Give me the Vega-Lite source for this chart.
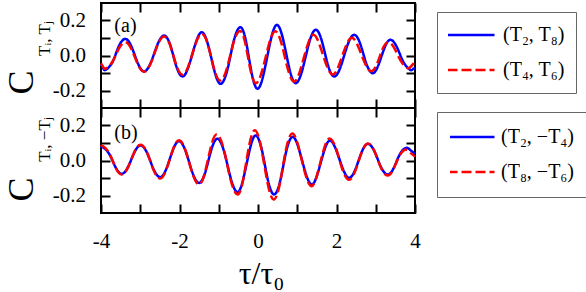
{
"$schema": "https://vega.github.io/schema/vega-lite/v6.json",
"background": "white",
"padding": {"left": 2, "top": 1, "right": 0, "bottom": 0},
"bounds": "flush",
"spacing": 0,
"config": {
 "font": "Liberation Serif",
 "view": {"stroke": "black", "strokeWidth": 2},
 "axis": {"domain": false, "grid": false, "ticks": true, "tickColor": "black", "tickWidth": 2, "tickSize": -9, "labelFont": "Liberation Serif", "labelFontSize": 21, "labelColor": "black", "labelFlush": false, "labelOverlap": false, "titleFont": "Liberation Serif", "titleFontWeight": "normal", "titleColor": "black"},
 "legend": {"orient": "none", "padding": 11, "symbolType": "stroke", "symbolSize": 2209, "symbolStrokeWidth": 2.4, "clipHeight": 24, "rowPadding": 11, "labelFont": "Liberation Serif", "labelFontSize": 20, "labelColor": "black", "labelOffset": 7, "symbolOffset": -2, "strokeColor": "#666666", "fillColor": "white", "cornerRadius": 0, "title": null}
},
"resolve": {"scale": {"color": "independent", "strokeDash": "independent", "x": "independent", "y": "independent"}, "legend": {"color": "independent", "strokeDash": "independent"}},
"datasets": {
 "a": [
  {"s":"(T₂, T₈)","t":-4.00,"c":-0.050},{"s":"(T₂, T₈)","t":-3.94,"c":-0.075},{"s":"(T₂, T₈)","t":-3.88,"c":-0.082},{"s":"(T₂, T₈)","t":-3.71,"c":-0.038},{"s":"(T₂, T₈)","t":-3.55,"c":0.051},{"s":"(T₂, T₈)","t":-3.38,"c":0.095},{"s":"(T₂, T₈)","t":-3.22,"c":0.049},{"s":"(T₂, T₈)","t":-3.06,"c":-0.045},{"s":"(T₂, T₈)","t":-2.90,"c":-0.091},{"s":"(T₂, T₈)","t":-2.73,"c":-0.040},{"s":"(T₂, T₈)","t":-2.56,"c":0.063},{"s":"(T₂, T₈)","t":-2.39,"c":0.114},{"s":"(T₂, T₈)","t":-2.23,"c":0.056},{"s":"(T₂, T₈)","t":-2.08,"c":-0.062},{"s":"(T₂, T₈)","t":-1.92,"c":-0.120},{"s":"(T₂, T₈)","t":-1.76,"c":-0.057},{"s":"(T₂, T₈)","t":-1.59,"c":0.070},{"s":"(T₂, T₈)","t":-1.43,"c":0.133},{"s":"(T₂, T₈)","t":-1.27,"c":0.059},{"s":"(T₂, T₈)","t":-1.11,"c":-0.088},{"s":"(T₂, T₈)","t":-0.95,"c":-0.162},{"s":"(T₂, T₈)","t":-0.78,"c":-0.081},{"s":"(T₂, T₈)","t":-0.62,"c":0.081},{"s":"(T₂, T₈)","t":-0.45,"c":0.162},{"s":"(T₂, T₈)","t":-0.30,"c":0.074},{"s":"(T₂, T₈)","t":-0.16,"c":-0.102},{"s":"(T₂, T₈)","t":-0.01,"c":-0.190},{"s":"(T₂, T₈)","t":0.15,"c":-0.099},{"s":"(T₂, T₈)","t":0.32,"c":0.084},{"s":"(T₂, T₈)","t":0.48,"c":0.175},{"s":"(T₂, T₈)","t":0.64,"c":0.092},{"s":"(T₂, T₈)","t":0.80,"c":-0.075},{"s":"(T₂, T₈)","t":0.96,"c":-0.158},{"s":"(T₂, T₈)","t":1.13,"c":-0.082},{"s":"(T₂, T₈)","t":1.30,"c":0.071},{"s":"(T₂, T₈)","t":1.47,"c":0.147},{"s":"(T₂, T₈)","t":1.63,"c":0.080},{"s":"(T₂, T₈)","t":1.78,"c":-0.053},{"s":"(T₂, T₈)","t":1.94,"c":-0.120},{"s":"(T₂, T₈)","t":2.11,"c":-0.061},{"s":"(T₂, T₈)","t":2.28,"c":0.059},{"s":"(T₂, T₈)","t":2.45,"c":0.118},{"s":"(T₂, T₈)","t":2.61,"c":0.063},{"s":"(T₂, T₈)","t":2.76,"c":-0.046},{"s":"(T₂, T₈)","t":2.92,"c":-0.101},{"s":"(T₂, T₈)","t":3.07,"c":-0.053},{"s":"(T₂, T₈)","t":3.22,"c":0.042},{"s":"(T₂, T₈)","t":3.37,"c":0.090},{"s":"(T₂, T₈)","t":3.54,"c":0.047},{"s":"(T₂, T₈)","t":3.71,"c":-0.039},{"s":"(T₂, T₈)","t":3.88,"c":-0.082},{"s":"(T₂, T₈)","t":3.94,"c":-0.079},{"s":"(T₂, T₈)","t":4.00,"c":-0.072},
  {"s":"(T₄, T₆)","t":-4.00,"c":-0.045},{"s":"(T₄, T₆)","t":-3.94,"c":-0.068},{"s":"(T₄, T₆)","t":-3.88,"c":-0.075},{"s":"(T₄, T₆)","t":-3.71,"c":-0.037},{"s":"(T₄, T₆)","t":-3.55,"c":0.038},{"s":"(T₄, T₆)","t":-3.38,"c":0.076},{"s":"(T₄, T₆)","t":-3.22,"c":0.034},{"s":"(T₄, T₆)","t":-3.06,"c":-0.051},{"s":"(T₄, T₆)","t":-2.90,"c":-0.093},{"s":"(T₄, T₆)","t":-2.73,"c":-0.043},{"s":"(T₄, T₆)","t":-2.56,"c":0.058},{"s":"(T₄, T₆)","t":-2.39,"c":0.108},{"s":"(T₄, T₆)","t":-2.23,"c":0.054},{"s":"(T₄, T₆)","t":-2.08,"c":-0.056},{"s":"(T₄, T₆)","t":-1.92,"c":-0.110},{"s":"(T₄, T₆)","t":-1.76,"c":-0.052},{"s":"(T₄, T₆)","t":-1.59,"c":0.066},{"s":"(T₄, T₆)","t":-1.43,"c":0.124},{"s":"(T₄, T₆)","t":-1.27,"c":0.057},{"s":"(T₄, T₆)","t":-1.12,"c":-0.076},{"s":"(T₄, T₆)","t":-0.96,"c":-0.143},{"s":"(T₄, T₆)","t":-0.79,"c":-0.072},{"s":"(T₄, T₆)","t":-0.63,"c":0.069},{"s":"(T₄, T₆)","t":-0.46,"c":0.140},{"s":"(T₄, T₆)","t":-0.32,"c":0.066},{"s":"(T₄, T₆)","t":-0.19,"c":-0.084},{"s":"(T₄, T₆)","t":-0.05,"c":-0.158},{"s":"(T₄, T₆)","t":0.11,"c":-0.084},{"s":"(T₄, T₆)","t":0.28,"c":0.065},{"s":"(T₄, T₆)","t":0.44,"c":0.139},{"s":"(T₄, T₆)","t":0.60,"c":0.067},{"s":"(T₄, T₆)","t":0.76,"c":-0.077},{"s":"(T₄, T₆)","t":0.92,"c":-0.149},{"s":"(T₄, T₆)","t":1.08,"c":-0.082},{"s":"(T₄, T₆)","t":1.25,"c":0.051},{"s":"(T₄, T₆)","t":1.41,"c":0.118},{"s":"(T₄, T₆)","t":1.57,"c":0.061},{"s":"(T₄, T₆)","t":1.74,"c":-0.052},{"s":"(T₄, T₆)","t":1.90,"c":-0.109},{"s":"(T₄, T₆)","t":2.06,"c":-0.057},{"s":"(T₄, T₆)","t":2.23,"c":0.049},{"s":"(T₄, T₆)","t":2.39,"c":0.101},{"s":"(T₄, T₆)","t":2.55,"c":0.053},{"s":"(T₄, T₆)","t":2.72,"c":-0.042},{"s":"(T₄, T₆)","t":2.88,"c":-0.090},{"s":"(T₄, T₆)","t":3.03,"c":-0.049},{"s":"(T₄, T₆)","t":3.17,"c":0.035},{"s":"(T₄, T₆)","t":3.32,"c":0.076},{"s":"(T₄, T₆)","t":3.48,"c":0.039},{"s":"(T₄, T₆)","t":3.65,"c":-0.035},{"s":"(T₄, T₆)","t":3.81,"c":-0.072},{"s":"(T₄, T₆)","t":3.90,"c":-0.062},{"s":"(T₄, T₆)","t":4.00,"c":-0.036}
 ],
 "b": [
  {"s":"(T₂, −T₄)","t":-4.00,"c":0.073},{"s":"(T₂, −T₄)","t":-3.95,"c":0.075},{"s":"(T₂, −T₄)","t":-3.79,"c":0.037},{"s":"(T₂, −T₄)","t":-3.63,"c":-0.038},{"s":"(T₂, −T₄)","t":-3.47,"c":-0.076},{"s":"(T₂, −T₄)","t":-3.31,"c":-0.036},{"s":"(T₂, −T₄)","t":-3.15,"c":0.046},{"s":"(T₂, −T₄)","t":-2.99,"c":0.086},{"s":"(T₂, −T₄)","t":-2.82,"c":0.041},{"s":"(T₂, −T₄)","t":-2.66,"c":-0.050},{"s":"(T₂, −T₄)","t":-2.49,"c":-0.095},{"s":"(T₂, −T₄)","t":-2.33,"c":-0.044},{"s":"(T₂, −T₄)","t":-2.17,"c":0.059},{"s":"(T₂, −T₄)","t":-2.01,"c":0.110},{"s":"(T₂, −T₄)","t":-1.84,"c":0.051},{"s":"(T₂, −T₄)","t":-1.67,"c":-0.069},{"s":"(T₂, −T₄)","t":-1.50,"c":-0.128},{"s":"(T₂, −T₄)","t":-1.34,"c":-0.065},{"s":"(T₂, −T₄)","t":-1.19,"c":0.061},{"s":"(T₂, −T₄)","t":-1.03,"c":0.124},{"s":"(T₂, −T₄)","t":-0.86,"c":0.048},{"s":"(T₂, −T₄)","t":-0.69,"c":-0.105},{"s":"(T₂, −T₄)","t":-0.52,"c":-0.181},{"s":"(T₂, −T₄)","t":-0.37,"c":-0.100},{"s":"(T₂, −T₄)","t":-0.21,"c":0.062},{"s":"(T₂, −T₄)","t":-0.06,"c":0.143},{"s":"(T₂, −T₄)","t":0.10,"c":0.059},{"s":"(T₂, −T₄)","t":0.25,"c":-0.110},{"s":"(T₂, −T₄)","t":0.41,"c":-0.194},{"s":"(T₂, −T₄)","t":0.57,"c":-0.112},{"s":"(T₂, −T₄)","t":0.72,"c":0.053},{"s":"(T₂, −T₄)","t":0.88,"c":0.135},{"s":"(T₂, −T₄)","t":1.04,"c":0.067},{"s":"(T₂, −T₄)","t":1.21,"c":-0.069},{"s":"(T₂, −T₄)","t":1.37,"c":-0.137},{"s":"(T₂, −T₄)","t":1.52,"c":-0.074},{"s":"(T₂, −T₄)","t":1.68,"c":0.051},{"s":"(T₂, −T₄)","t":1.83,"c":0.114},{"s":"(T₂, −T₄)","t":1.99,"c":0.061},{"s":"(T₂, −T₄)","t":2.16,"c":-0.046},{"s":"(T₂, −T₄)","t":2.32,"c":-0.099},{"s":"(T₂, −T₄)","t":2.48,"c":-0.051},{"s":"(T₂, −T₄)","t":2.64,"c":0.047},{"s":"(T₂, −T₄)","t":2.80,"c":0.095},{"s":"(T₂, −T₄)","t":2.97,"c":0.051},{"s":"(T₂, −T₄)","t":3.13,"c":-0.036},{"s":"(T₂, −T₄)","t":3.30,"c":-0.080},{"s":"(T₂, −T₄)","t":3.46,"c":-0.042},{"s":"(T₂, −T₄)","t":3.61,"c":0.034},{"s":"(T₂, −T₄)","t":3.77,"c":0.072},{"s":"(T₂, −T₄)","t":3.89,"c":0.058},{"s":"(T₂, −T₄)","t":4.00,"c":0.040},
  {"s":"(T₈, −T₆)","t":-4.00,"c":0.080},{"s":"(T₈, −T₆)","t":-3.95,"c":0.082},{"s":"(T₈, −T₆)","t":-3.79,"c":0.042},{"s":"(T₈, −T₆)","t":-3.63,"c":-0.040},{"s":"(T₈, −T₆)","t":-3.47,"c":-0.080},{"s":"(T₈, −T₆)","t":-3.31,"c":-0.038},{"s":"(T₈, −T₆)","t":-3.15,"c":0.048},{"s":"(T₈, −T₆)","t":-2.99,"c":0.090},{"s":"(T₈, −T₆)","t":-2.82,"c":0.042},{"s":"(T₈, −T₆)","t":-2.66,"c":-0.055},{"s":"(T₈, −T₆)","t":-2.49,"c":-0.103},{"s":"(T₈, −T₆)","t":-2.33,"c":-0.048},{"s":"(T₈, −T₆)","t":-2.17,"c":0.061},{"s":"(T₈, −T₆)","t":-2.01,"c":0.116},{"s":"(T₈, −T₆)","t":-1.84,"c":0.053},{"s":"(T₈, −T₆)","t":-1.67,"c":-0.074},{"s":"(T₈, −T₆)","t":-1.50,"c":-0.137},{"s":"(T₈, −T₆)","t":-1.35,"c":-0.066},{"s":"(T₈, −T₆)","t":-1.20,"c":0.078},{"s":"(T₈, −T₆)","t":-1.05,"c":0.149},{"s":"(T₈, −T₆)","t":-0.87,"c":0.063},{"s":"(T₈, −T₆)","t":-0.70,"c":-0.108},{"s":"(T₈, −T₆)","t":-0.52,"c":-0.194},{"s":"(T₈, −T₆)","t":-0.37,"c":-0.102},{"s":"(T₈, −T₆)","t":-0.23,"c":0.081},{"s":"(T₈, −T₆)","t":-0.08,"c":0.173},{"s":"(T₈, −T₆)","t":0.08,"c":0.074},{"s":"(T₈, −T₆)","t":0.24,"c":-0.124},{"s":"(T₈, −T₆)","t":0.40,"c":-0.223},{"s":"(T₈, −T₆)","t":0.56,"c":-0.129},{"s":"(T₈, −T₆)","t":0.71,"c":0.060},{"s":"(T₈, −T₆)","t":0.87,"c":0.154},{"s":"(T₈, −T₆)","t":1.03,"c":0.079},{"s":"(T₈, −T₆)","t":1.20,"c":-0.072},{"s":"(T₈, −T₆)","t":1.36,"c":-0.147},{"s":"(T₈, −T₆)","t":1.51,"c":-0.079},{"s":"(T₈, −T₆)","t":1.67,"c":0.058},{"s":"(T₈, −T₆)","t":1.82,"c":0.126},{"s":"(T₈, −T₆)","t":1.99,"c":0.067},{"s":"(T₈, −T₆)","t":2.15,"c":-0.051},{"s":"(T₈, −T₆)","t":2.32,"c":-0.110},{"s":"(T₈, −T₆)","t":2.48,"c":-0.058},{"s":"(T₈, −T₆)","t":2.64,"c":0.045},{"s":"(T₈, −T₆)","t":2.80,"c":0.097},{"s":"(T₈, −T₆)","t":2.97,"c":0.051},{"s":"(T₈, −T₆)","t":3.13,"c":-0.040},{"s":"(T₈, −T₆)","t":3.30,"c":-0.086},{"s":"(T₈, −T₆)","t":3.45,"c":-0.049},{"s":"(T₈, −T₆)","t":3.60,"c":0.025},{"s":"(T₈, −T₆)","t":3.75,"c":0.062},{"s":"(T₈, −T₆)","t":3.88,"c":0.045},{"s":"(T₈, −T₆)","t":4.00,"c":0.022}
 ]
},
"vconcat": [
 {
  "width": 314, "height": 105,
  "resolve": {"axis": {"x": "independent", "y": "independent"}},
  "layer": [
   {"data": {"name": "a"},
    "mark": {"type": "line", "interpolate": "natural", "strokeWidth": 2.5},
    "encoding": {
     "x": {"field": "t", "type": "quantitative", "scale": {"domain": [-4, 4], "nice": false, "zero": false}, "axis": {"orient": "bottom", "values": [-4,-3,-2,-1,0,1,2,3,4], "labels": false, "title": null}},
     "y": {"field": "c", "type": "quantitative", "scale": {"domain": [-0.3, 0.3], "nice": false, "zero": false}, "axis": {"orient": "left", "values": [-0.2,-0.1,0,0.1,0.2], "labelExpr": "datum.value == 0 ? '0.0' : (abs(datum.value) > 0.15 ? (datum.value < 0 ? '-' : '') + format(abs(datum.value), '.1f') : '')", "labelPadding": 24.5, "title": "C", "titleFontSize": 36, "titleAngle": 270, "titleX": -68.2, "titleY": 79, "titleAlign": "center", "titleBaseline": "alphabetic"}},
     "color": {"field": "s", "type": "nominal", "scale": {"domain": ["(T₂, T₈)", "(T₄, T₆)"], "range": ["#0000ff", "#ff0000"]}, "legend": {"orient": "none", "legendX": 336, "legendY": 9, "title": null}},
     "strokeDash": {"field": "s", "type": "nominal", "scale": {"domain": ["(T₂, T₈)", "(T₄, T₆)"], "range": [[1, 0], [10, 4]]}, "legend": {"orient": "none", "legendX": 336, "legendY": 9, "title": null}}
    }},
   {"data": {"values": [{"t": 0, "c": 0}]},
    "mark": {"type": "point", "opacity": 0},
    "encoding": {
     "x": {"field": "t", "type": "quantitative", "axis": {"orient": "top", "values": [-4,-3,-2,-1,0,1,2,3,4], "labels": false, "title": null}},
     "y": {"field": "c", "type": "quantitative", "axis": {"orient": "right", "values": [-0.2,-0.1,0,0.1,0.2], "labels": false, "title": null}}
    }},
   {"data": {"values": [{}]},
    "mark": {"type": "text", "text": "(a)", "align": "left", "baseline": "middle", "fontSize": 20, "font": "Liberation Serif", "color": "black"},
    "encoding": {"x": {"datum": -3.66, "type": "quantitative", "axis": null}, "y": {"datum": 0.17, "type": "quantitative", "axis": null}}},
   {"data": {"values": [{}]},
    "mark": {"type": "text", "text": "Tᵢ, Tⱼ", "angle": 270, "align": "center", "baseline": "alphabetic", "fontSize": 17, "font": "Liberation Serif", "color": "black", "dy": -51},
    "encoding": {"x": {"datum": -4, "type": "quantitative", "axis": null}, "y": {"datum": 0.097, "type": "quantitative", "axis": null}}}
  ]
 },
 {
  "width": 314, "height": 105,
  "resolve": {"axis": {"x": "independent", "y": "independent"}},
  "layer": [
   {"data": {"name": "b"},
    "mark": {"type": "line", "interpolate": "natural", "strokeWidth": 2.5},
    "encoding": {
     "x": {"field": "t", "type": "quantitative", "scale": {"domain": [-4, 4], "nice": false, "zero": false}, "axis": {"orient": "bottom", "values": [-4,-3,-2,-1,0,1,2,3,4], "labelExpr": "abs(datum.value) % 2 == 0 ? (datum.value < 0 ? '-' : '') + abs(datum.value) : ''", "labelPadding": 26, "title": "τ/τ₀", "titleFontSize": 32, "titleX": 160, "titleY": 70, "titleAlign": "center", "titleBaseline": "alphabetic"}},
     "y": {"field": "c", "type": "quantitative", "scale": {"domain": [-0.3, 0.3], "nice": false, "zero": false}, "axis": {"orient": "left", "values": [-0.2,-0.1,0,0.1,0.2], "labelExpr": "datum.value == 0 ? '0.0' : (abs(datum.value) > 0.15 ? (datum.value < 0 ? '-' : '') + format(abs(datum.value), '.1f') : '')", "labelPadding": 24.5, "title": "C", "titleFontSize": 36, "titleAngle": 270, "titleX": -68.2, "titleY": 81, "titleAlign": "center", "titleBaseline": "alphabetic"}},
     "color": {"field": "s", "type": "nominal", "scale": {"domain": ["(T₂, −T₄)", "(T₈, −T₆)"], "range": ["#0000ff", "#ff0000"]}, "legend": {"orient": "none", "legendX": 336, "legendY": 4, "title": null, "padding": 13, "labelOffset": 5, "symbolOffset": -4}},
     "strokeDash": {"field": "s", "type": "nominal", "scale": {"domain": ["(T₂, −T₄)", "(T₈, −T₆)"], "range": [[1, 0], [10, 4]]}, "legend": {"orient": "none", "legendX": 336, "legendY": 4, "title": null, "padding": 13, "labelOffset": 5, "symbolOffset": -4}}
    }},
   {"data": {"values": [{"t": 0, "c": 0}]},
    "mark": {"type": "point", "opacity": 0},
    "encoding": {
     "x": {"field": "t", "type": "quantitative", "axis": {"orient": "top", "values": [-4,-3,-2,-1,0,1,2,3,4], "labels": false, "title": null}},
     "y": {"field": "c", "type": "quantitative", "axis": {"orient": "right", "values": [-0.2,-0.1,0,0.1,0.2], "labels": false, "title": null}}
    }},
   {"data": {"values": [{}]},
    "mark": {"type": "text", "text": "(b)", "align": "left", "baseline": "middle", "fontSize": 20, "font": "Liberation Serif", "color": "black"},
    "encoding": {"x": {"datum": -3.66, "type": "quantitative", "axis": null}, "y": {"datum": 0.158, "type": "quantitative", "axis": null}}},
   {"data": {"values": [{}]},
    "mark": {"type": "text", "text": "Tᵢ, −Tⱼ", "angle": 270, "align": "center", "baseline": "alphabetic", "fontSize": 17, "font": "Liberation Serif", "color": "black", "dy": -51},
    "encoding": {"x": {"datum": -4, "type": "quantitative", "axis": null}, "y": {"datum": 0.12, "type": "quantitative", "axis": null}}}
  ]
 }
]
}
